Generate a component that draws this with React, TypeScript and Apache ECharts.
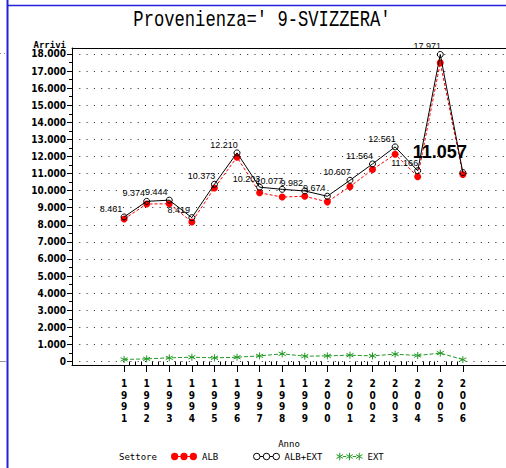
import React, { useEffect, useRef } from 'react';
import * as echarts from 'echarts';

// ---- data ----
const years = [1991, 1992, 1993, 1994, 1995, 1996, 1997, 1998, 1999, 2000, 2001, 2002, 2003, 2004, 2005, 2006];
const albExt = [8461, 9374, 9444, 8419, 10373, 12210, 10203, 10077, 9982, 9674, 10607, 11564, 12561, 11166, 17971, 11057];
const alb = [8341, 9219, 9229, 8169, 10158, 11960, 9873, 9627, 9672, 9344, 10237, 11234, 12131, 10816, 17481, 10947];
const ext = [120, 155, 215, 250, 215, 250, 330, 450, 310, 330, 370, 330, 430, 350, 490, 110];
const yTicks = [0, 1000, 2000, 3000, 4000, 5000, 6000, 7000, 8000, 9000, 10000, 11000, 12000, 13000, 14000, 15000, 16000, 17000, 18000];

const titleText = "Provenienza=' 9-SVIZZERA'";
const yName = 'Arrivi';
const xName = 'Anno';
const legendTitle = 'Settore';
const seriesNames = ['ALB', 'ALB+EXT', 'EXT'];

// ---- layout constants ----
const X_MIN = 1988.693;
const X_MAX = 2007.91;
const Y_MIN = -205;
const Y_MAX = 18350;

const RED = '#ff0000';
const BLACK = '#000000';
const GREEN = '#229922';
const AX_FONT = "'DejaVu Sans Condensed', 'DejaVu Sans', sans-serif";
const MONO = "'DejaVu Sans Mono', monospace";
const THIN_MONO = "'Liberation Mono', 'DejaVu Sans Mono', monospace";
const LBL_FONT = "'Liberation Sans', Arial, sans-serif";

const fmt = (v: number) => String(Math.round(v)).replace(/\B(?=(\d{3})+(?!\d))/g, '.');

const yMinor = yTicks.slice(0, -1).map((v) => v + 500);
const xMinor: number[] = [];
years.slice(0, -1).forEach((y) => { xMinor.push(y + 0.25, y + 0.5, y + 0.75); });

const ASTER = 'path://M5,0L5,10M0.7,2.5L9.3,7.5M0.7,7.5L9.3,2.5';
const ICON_ALB = 'path://M0.5,4a3.5,3.5 0 1,0 7,0a3.5,3.5 0 1,0 -7,0Z M9.5,4a3.5,3.5 0 1,0 7,0a3.5,3.5 0 1,0 -7,0Z M18.5,4a3.5,3.5 0 1,0 7,0a3.5,3.5 0 1,0 -7,0Z M7.5,3.5H9.5V4.5H7.5Z M16.5,3.5H18.5V4.5H16.5Z';
const ICON_ALBEXT = 'path://M1,4a3,3 0 1,0 6,0a3,3 0 1,0 -6,0Z M10,4a3,3 0 1,0 6,0a3,3 0 1,0 -6,0Z M19,4a3,3 0 1,0 6,0a3,3 0 1,0 -6,0Z M7,4H10M16,4H19';
const ICON_EXT = 'path://M4,0.5V7.5M1,2.25L7,5.75M1,5.75L7,2.25 M13,0.5V7.5M10,2.25L16,5.75M10,5.75L16,2.25 M22,0.5V7.5M19,2.25L25,5.75M19,5.75L25,2.25 M7,4H10M16,4H19';

export default function App() {
  const ref = useRef<HTMLDivElement>(null);

  useEffect(() => {
    if (!ref.current) return;
    const chart = echarts.init(ref.current, null, { renderer: 'svg' });

    const legendText = { fontSize: 9, fontFamily: MONO, color: BLACK };

    const option: any = {
      animation: false,
      backgroundColor: '#ffffff',
      grid: { left: 72, right: 0, top: 48, bottom: 103, containLabel: false },
      graphic: [
        { type: 'line', shape: { x1: 7.5, y1: 0, x2: 7.5, y2: 468 }, style: { stroke: '#2222dd', lineWidth: 2 }, silent: true },
        { type: 'line', shape: { x1: 7, y1: 5.5, x2: 506, y2: 5.5 }, style: { stroke: '#2222dd', lineWidth: 1.5 }, silent: true },
        { type: 'line', shape: { x1: 0, y1: 53.5, x2: 6, y2: 53.5 }, style: { stroke: '#999', lineWidth: 1, lineDash: [1, 3] }, silent: true },
        { type: 'line', shape: { x1: 0, y1: 361.5, x2: 6, y2: 361.5 }, style: { stroke: '#999', lineWidth: 1 }, silent: true },
        {
          type: 'text', x: 262, y: 20, scaleX: 0.78, scaleY: 1,
          style: { text: titleText, font: `22px ${THIN_MONO}`, fill: BLACK, textAlign: 'center', textVerticalAlign: 'middle' },
        },
        {
          type: 'text', x: 119, y: 457,
          style: { text: legendTitle, font: `9px ${MONO}`, fill: BLACK, textAlign: 'left', textVerticalAlign: 'middle' },
        },
      ],
      legend: [
        {
          data: [{ name: seriesNames[0], icon: ICON_ALB, itemStyle: { color: RED, borderWidth: 0 } }],
          left: 171, top: 452, itemWidth: 26, itemHeight: 8, padding: 0, textStyle: legendText, selectedMode: false,
        },
        {
          data: [{ name: seriesNames[1], icon: ICON_ALBEXT, itemStyle: { color: 'rgba(0,0,0,0)', borderColor: BLACK, borderWidth: 1 } }],
          left: 253, top: 452, itemWidth: 26, itemHeight: 8, padding: 0, textStyle: legendText, selectedMode: false,
        },
        {
          data: [{ name: seriesNames[2], icon: ICON_EXT, itemStyle: { color: 'rgba(0,0,0,0)', borderColor: GREEN, borderWidth: 1 } }],
          left: 336, top: 452, itemWidth: 26, itemHeight: 8, padding: 0, textStyle: legendText, selectedMode: false,
        },
      ],
      xAxis: [
        {
          type: 'value', min: X_MIN, max: X_MAX, position: 'bottom',
          axisLine: { show: true, onZero: false, lineStyle: { color: BLACK, width: 1 } },
          axisTick: { show: true, customValues: years, length: 7, lineStyle: { color: BLACK, width: 1 } },
          axisLabel: {
            customValues: years, margin: 13, fontSize: 10, lineHeight: 11.5, fontFamily: AX_FONT, fontWeight: 'bold', color: BLACK,
            formatter: (v: number) => String(v).split('').join('\n'),
          },
          splitLine: { show: false },
          name: xName, nameLocation: 'middle', nameGap: 74,
          nameTextStyle: { fontSize: 9, fontFamily: MONO, color: BLACK },
        },
        {
          type: 'value', min: X_MIN, max: X_MAX, position: 'bottom',
          axisLine: { show: false },
          axisTick: { show: true, customValues: xMinor, length: 3.5, lineStyle: { color: BLACK, width: 1 } },
          axisLabel: { show: false },
          splitLine: { show: false },
        },
        {
          type: 'value', min: X_MIN, max: X_MAX, position: 'top',
          axisLine: { show: true, onZero: false, lineStyle: { color: BLACK, width: 1 } },
          axisTick: { show: false }, axisLabel: { show: false }, splitLine: { show: false },
        },
      ],
      yAxis: [
        {
          type: 'value', min: Y_MIN, max: Y_MAX, position: 'left',
          axisLine: { show: true, onZero: false, lineStyle: { color: BLACK, width: 1 } },
          axisTick: { show: true, customValues: yTicks, length: 5, lineStyle: { color: BLACK, width: 1 } },
          axisLabel: { customValues: yTicks, formatter: (v: number) => fmt(v), margin: 6, fontSize: 10, fontFamily: AX_FONT, fontWeight: 'bold', color: BLACK },
          splitLine: { show: true, lineStyle: { color: '#222', width: 1, type: [1, 6.3] } },
          name: yName, nameLocation: 'end', nameGap: 3,
          nameTextStyle: { fontSize: 9, fontFamily: MONO, fontWeight: 'bold', color: BLACK, align: 'right', verticalAlign: 'middle', padding: [0, 6, 0, 0] },
        },
        {
          type: 'value', min: Y_MIN, max: Y_MAX, position: 'left', offset: 0,
          axisLine: { show: false },
          axisTick: { show: true, customValues: yMinor, length: 3, lineStyle: { color: BLACK, width: 1 } },
          axisLabel: { show: false }, splitLine: { show: false },
        },
      ],
      series: [
        {
          name: seriesNames[0], type: 'line', xAxisIndex: 0, yAxisIndex: 0,
          data: years.map((y, i) => [y, alb[i]]),
          symbol: 'circle', symbolSize: 7,
          itemStyle: { color: RED },
          lineStyle: { color: RED, width: 1, type: [3, 2] },
          z: 2,
        },
        {
          name: seriesNames[1], type: 'line', xAxisIndex: 0, yAxisIndex: 0,
          data: years.map((y, i) => {
            const item: any = { value: [y, albExt[i]] };
            if (i === years.length - 1) {
              item.label = {
                fontSize: 18, fontWeight: 'bold', offset: [-23, -21],
                fontFamily: "'Liberation Sans Narrow', 'Liberation Sans', Arial, sans-serif",
              };
            }
            return item;
          }),
          symbol: 'circle', symbolSize: 6,
          itemStyle: { color: 'rgba(255,255,255,0)', borderColor: BLACK, borderWidth: 1 },
          lineStyle: { color: BLACK, width: 1 },
          label: {
            show: true, position: 'inside', offset: [-13, -8],
            formatter: (p: any) => fmt(p.value[1]),
            fontSize: 9, fontFamily: LBL_FONT, color: BLACK, textBorderWidth: 0,
          },
          z: 3,
        },
        {
          name: seriesNames[2], type: 'line', xAxisIndex: 0, yAxisIndex: 0,
          data: years.map((y, i) => [y, ext[i]]),
          symbol: ASTER, symbolSize: 7,
          itemStyle: { color: GREEN, borderColor: GREEN, borderWidth: 1 },
          lineStyle: { color: GREEN, width: 1, type: [4, 2] },
          z: 2,
        },
      ],
    };

    chart.setOption(option);
    return () => chart.dispose();
  }, []);

  return (
    <div
      ref={ref}
      style={{ position: 'fixed', left: 0, top: 0, width: 506, height: 468, background: '#fff' }}
    />
  );
}
